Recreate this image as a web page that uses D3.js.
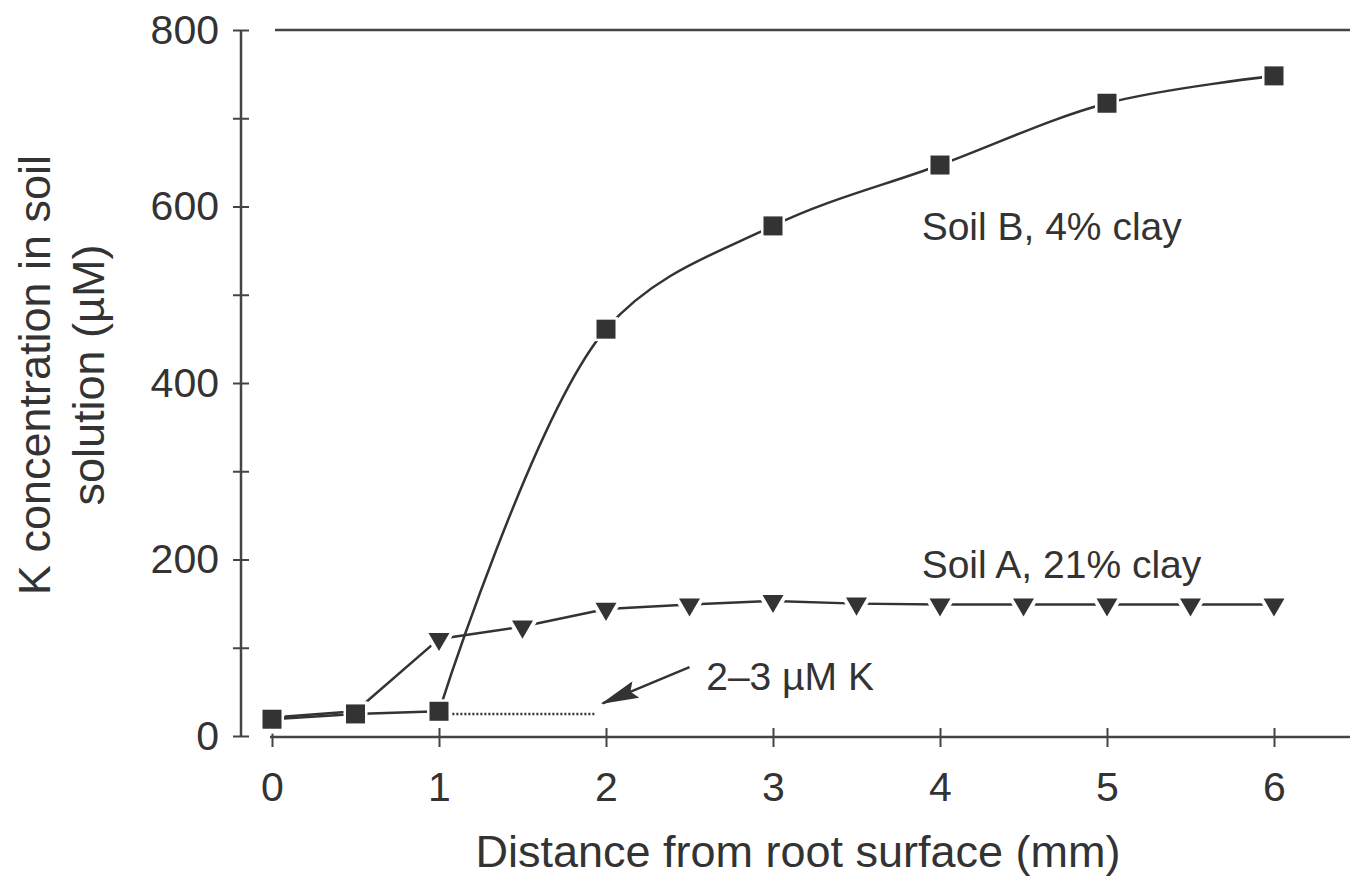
<!DOCTYPE html>
<html>
<head>
<meta charset="utf-8">
<script src="https://cdn.jsdelivr.net/npm/d3@7"></script>
<style>
  body { margin: 0; background: #fff; }
  text { font-family: "Liberation Sans", Arial, sans-serif; fill: #333; }
</style>
</head>
<body>
<script>
const width = 1350;
const height = 877;

// distances (mm) and K concentrations (µM)
const distB = [0, 0.5, 1, 2, 3, 4, 5, 6];
const soilB = [19, 25, 28, 461, 578, 647, 717, 748];
const distA = [0, 0.5, 1, 1.5, 2, 2.5, 3, 3.5, 4, 4.5, 5, 5.5, 6];
const soilA = [21, 28, 110, 124, 144, 149, 153, 150, 149, 149, 149, 149, 149];

const xTicks = [0, 1, 2, 3, 4, 5, 6];
const yTicks = [0, 100, 200, 300, 400, 500, 600, 700, 800];

const dataB = distB.map((d, i) => ({x: d, y: soilB[i]}));
const dataA = distA.map((d, i) => ({x: d, y: soilA[i]}));

const x = d3.scaleLinear().domain([0, 6]).range([272, 1274]);
const y = d3.scaleLinear().domain([0, 800]).range([736, 30]);

const ink = "#333";

const svg = d3.select("body").append("svg")
  .attr("width", width)
  .attr("height", height);

// frame: top rule and offset axes
svg.append("line")
  .attr("x1", 275).attr("x2", width)
  .attr("y1", y(800)).attr("y2", y(800))
  .attr("stroke", "#444").attr("stroke-width", 2.5);

svg.append("line")
  .attr("x1", 241).attr("x2", 241)
  .attr("y1", y(800)).attr("y2", y(0))
  .attr("stroke", "#444").attr("stroke-width", 2.5);

svg.append("line")
  .attr("x1", x(0) - 2).attr("x2", width)
  .attr("y1", 737).attr("y2", 737)
  .attr("stroke", "#444").attr("stroke-width", 2.5);

// y axis ticks cross the axis line
const yAxis = svg.append("g")
  .attr("transform", "translate(241,0)")
  .call(d3.axisLeft(y).tickValues(yTicks).tickSize(8).tickPadding(14)
    .tickFormat(d => d % 200 ? "" : d));
yAxis.select(".domain").remove();
yAxis.selectAll(".tick line").attr("x2", -8).attr("x1", 8)
  .attr("stroke", "#444").attr("stroke-width", 2);
yAxis.selectAll("text").attr("font-size", 41).attr("fill", ink)
  .attr("font-family", "Liberation Sans, Arial, sans-serif");

const xAxis = svg.append("g")
  .attr("transform", "translate(0,737)")
  .call(d3.axisBottom(x).tickValues(xTicks).tickSize(10).tickPadding(25)
    .tickFormat(d3.format("d")));
xAxis.select(".domain").remove();
xAxis.selectAll(".tick line").attr("y1", -9)
  .attr("stroke", "#444").attr("stroke-width", 2);
xAxis.selectAll("text").attr("font-size", 41).attr("fill", ink)
  .attr("font-family", "Liberation Sans, Arial, sans-serif");

// axis titles
svg.append("text")
  .attr("x", 798).attr("y", 867)
  .attr("text-anchor", "middle")
  .attr("font-size", 45)
  .text("Distance from root surface (mm)");

const yTitle = svg.append("text")
  .attr("transform", "translate(0,375) rotate(-90)")
  .attr("text-anchor", "middle")
  .attr("font-size", 45);
yTitle.append("tspan").attr("x", 0).attr("y", 50).text("K concentration in soil");
yTitle.append("tspan").attr("x", 0).attr("y", 104).text("solution (\u00b5M)");

// lines
const lineLin = d3.line().x(d => x(d.x)).y(d => y(d.y));
const lineSmooth = d3.line().x(d => x(d.x)).y(d => y(d.y))
  .curve(d3.curveCatmullRom.alpha(0.5));

svg.append("path")
  .attr("d", lineLin(dataA))
  .attr("fill", "none").attr("stroke", ink).attr("stroke-width", 2.5);

svg.append("path")
  .attr("d", lineLin(dataB.slice(0, 3)))
  .attr("fill", "none").attr("stroke", ink).attr("stroke-width", 2.5);

svg.append("path")
  .attr("d", lineSmooth(dataB.slice(2)))
  .attr("fill", "none").attr("stroke", ink).attr("stroke-width", 2.5);

// dotted threshold line and arrow
const thresh = {x0: 1.08, x1: 1.93, y: 25};
svg.append("line")
  .attr("x1", x(thresh.x0)).attr("x2", x(thresh.x1))
  .attr("y1", y(thresh.y)).attr("y2", y(thresh.y))
  .attr("stroke", ink).attr("stroke-width", 2.5)
  .attr("stroke-dasharray", "2,2");

svg.append("defs").append("marker")
  .attr("id", "head")
  .attr("viewBox", "0 0 38 18")
  .attr("refX", 36).attr("refY", 9)
  .attr("markerWidth", 38).attr("markerHeight", 18)
  .attr("markerUnits", "userSpaceOnUse")
  .attr("orient", "auto")
  .append("path")
  .attr("d", "M0,0L38,9L0,18L6,9Z")
  .attr("fill", ink);

const arrow = {x0: 2.5, y0: 78, x1: 1.98, y1: 37};
svg.append("line")
  .attr("x1", x(arrow.x0)).attr("y1", y(arrow.y0))
  .attr("x2", x(arrow.x1)).attr("y2", y(arrow.y1))
  .attr("stroke", ink).attr("stroke-width", 2.5)
  .attr("marker-end", "url(#head)");

// markers: triangles (soil A) under squares (soil B)
const tri = d3.symbol().type(d3.symbolTriangle).size(190);
svg.append("g").selectAll("path")
  .data(dataA)
  .join("path")
  .attr("d", tri)
  .attr("transform", d => `translate(${x(d.x)},${y(d.y)}) rotate(180)`)
  .attr("fill", ink)
  .attr("stroke", "#fff").attr("stroke-width", 8)
  .attr("stroke-linejoin", "round")
  .attr("paint-order", "stroke");

const sq = 19;
svg.append("g").selectAll("rect")
  .data(dataB)
  .join("rect")
  .attr("x", d => x(d.x) - sq / 2)
  .attr("y", d => y(d.y) - sq / 2)
  .attr("width", sq).attr("height", sq)
  .attr("fill", ink)
  .attr("stroke", "#fff").attr("stroke-width", 5)
  .attr("paint-order", "stroke");

// annotations
const labels = [
  {x: 3.89, y: 562, text: "Soil B, 4% clay"},
  {x: 3.89, y: 179, text: "Soil A, 21% clay"},
  {x: 2.6, y: 52, text: "2\u20133 \u00b5M K"}
];
svg.append("g").selectAll("text")
  .data(labels)
  .join("text")
  .attr("x", d => x(d.x))
  .attr("y", d => y(d.y))
  .attr("font-size", 39)
  .text(d => d.text);
</script>
</body>
</html>
